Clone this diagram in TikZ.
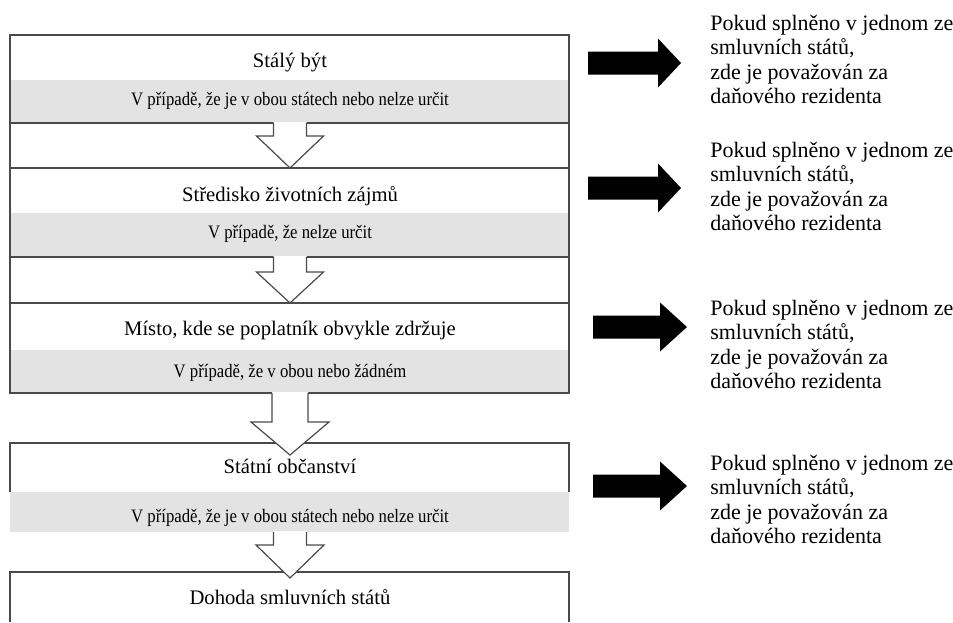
\documentclass[tikz,border=0pt]{standalone}
\usepackage{fontspec}
\setmainfont{Liberation Serif}
\newfontfamily\narrowserif[FakeStretch=0.88]{Liberation Serif}
\usepackage{tikz}
\usetikzlibrary{calc}
\definecolor{bandgray}{HTML}{E3E3E3}
\definecolor{linegray}{HTML}{4A4A4A}

\begin{document}
\begin{tikzpicture}[x=0.75pt,y=-0.75pt,line join=miter,
   frame/.style={draw=linegray,line width=1.1pt},
   hollow/.style={draw=linegray,line width=0.9pt},
   title/.style={anchor=base,inner sep=0pt,font=\fontsize{15.5}{18}\selectfont},
   note/.style={anchor=base,inner sep=0pt,font=\narrowserif\fontsize{14.25}{17}\selectfont},
   result/.style={anchor=base west,inner sep=0pt,font=\fontsize{16.5}{19}\selectfont}]
\useasboundingbox (0,0) rectangle (953,622);
\def\mid{290} % axis of the column
% gray bands
\foreach\t/\b in {80/122,213/257,350/392,492/532}
  \fill[bandgray] (10,\t) rectangle (569,\b);
% frames of the boxes
\draw[frame] (10,35) rectangle (569,393);
\foreach\y in {123,168,257,303}
  \draw[frame] (10,\y) -- (569,\y);
\draw[frame] (10,492) -- (10,443) -- (569,443) -- (569,492);
\draw[frame] (10,622) -- (10,572) -- (569,572) -- (569,622);
% hollow arrows down the column
\foreach\top/\neck/\tip/\sh/\hd in {123/136/168/16.5/33.5,257/272/303/16.5/33.5,
    393/422/455/18/39,532/545/578/16.5/34}
{%
  \fill[white] ({\mid-\sh},\top-1) -- ({\mid-\sh},\neck) -- ({\mid-\hd},\neck)
    -- (\mid,\tip) -- ({\mid+\hd},\neck) -- ({\mid+\sh},\neck) -- ({\mid+\sh},\top-1) -- cycle;
  \draw[hollow] ({\mid-\sh},\top) -- ({\mid-\sh},\neck) -- ({\mid-\hd},\neck)
    -- (\mid,\tip) -- ({\mid+\hd},\neck) -- ({\mid+\sh},\neck) -- ({\mid+\sh},\top);
}
% criteria and their notes
\node[title] (home)         at (\mid,67)  {Stálý být};
\node[note]  (home-note)    at (\mid,105) {V případě, že je v obou státech nebo nelze určit};
\node[title] (centre)       at (\mid,201) {Středisko životních zájmů};
\node[note]  (centre-note)  at (\mid,238) {V případě, že nelze určit};
\node[title] (abode)        at (\mid,335) {Místo, kde se poplatník obvykle zdržuje};
\node[note]  (abode-note)   at (\mid,377) {V případě, že v obou nebo žádném};
\node[title] (citizen)      at (\mid,473) {Státní občanství};
\node[note]  (citizen-note) at (\mid,522) {V případě, že je v obou státech nebo nelze určit};
\node[title] (treaty)       at (\mid,604) {Dohoda smluvních států};
% black arrows to the results
\foreach\c/\xa/\xb/\xc in {63/588/658/681,188/588/658/681,327/593/660/687,486/593/660/687}
{%
  \fill[black] (\xa,\c-11.5) -- (\xb,\c-11.5) -- (\xb,\c-24.5) -- (\xc,\c)
    -- (\xb,\c+24.5) -- (\xb,\c+11.5) -- (\xa,\c+11.5) -- cycle;
}
% results
\foreach\y [count=\i] in {30,157,315,470}
{%
  \node[result] (res-\i-1) at (710,\y)      {Pokud splněno v jednom ze};
  \node[result] (res-\i-2) at (710,\y+24.5) {smluvních států,};
  \node[result] (res-\i-3) at (710,\y+49)   {zde je považován za};
  \node[result] (res-\i-4) at (710,\y+73.5) {daňového rezidenta};
}
\end{tikzpicture}
\end{document}
